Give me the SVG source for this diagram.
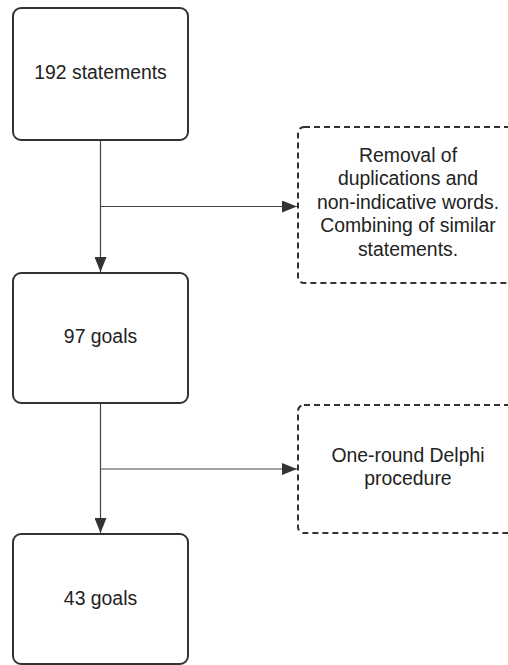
<svg xmlns="http://www.w3.org/2000/svg" width="508" height="665" viewBox="0 0 508 665">
<style>
.box{fill:#fff;stroke:#333;stroke-width:2}
.dbox{fill:#fff;stroke:#333;stroke-width:2;stroke-dasharray:6 4}
.t{font-family:"Liberation Sans",Arial,sans-serif;font-size:19.4px;fill:#222;text-anchor:middle}
.ln{fill:none;stroke:#444;stroke-width:1.2}
</style>
<defs>
<marker id="ah" markerWidth="15" markerHeight="12" refX="15" refY="6" orient="auto" markerUnits="userSpaceOnUse">
<path d="M0,0 L15,6 L0,12 Z" fill="#333"/>
</marker>
</defs>
<rect width="508" height="665" fill="#fff"/>
<g id="connectors">
<path class="ln" d="M100.5,141 V272" marker-end="url(#ah)"/>
<path class="ln" d="M100.5,206.5 H297" marker-end="url(#ah)"/>
<path class="ln" d="M100.5,404 V533" marker-end="url(#ah)"/>
<path class="ln" d="M100.5,469 H297" marker-end="url(#ah)"/>
</g>
<g id="n1">
<rect class="box" x="13" y="8" width="175" height="132" rx="8"/>
<text class="t" x="100.5" y="78.5">192 statements</text>
</g>
<g id="n2">
<rect class="box" x="13" y="273" width="175" height="130" rx="8"/>
<text class="t" x="100.5" y="343">97 goals</text>
</g>
<g id="n3">
<rect class="box" x="13" y="534" width="175" height="130" rx="8"/>
<text class="t" x="100.5" y="605">43 goals</text>
</g>
<g id="d1">
<rect class="dbox" x="298" y="127" width="222" height="156" rx="6"/>
<text class="t" x="408" y="161.5">Removal of</text>
<text class="t" x="408" y="185">duplications and</text>
<text class="t" x="408" y="208.5">non-indicative words.</text>
<text class="t" x="408" y="232">Combining of similar</text>
<text class="t" x="408" y="255.5">statements.</text>
</g>
<g id="d2">
<rect class="dbox" x="298" y="405" width="222" height="128" rx="6"/>
<text class="t" x="408" y="461.5">One-round Delphi</text>
<text class="t" x="408" y="485">procedure</text>
</g>
</svg>
